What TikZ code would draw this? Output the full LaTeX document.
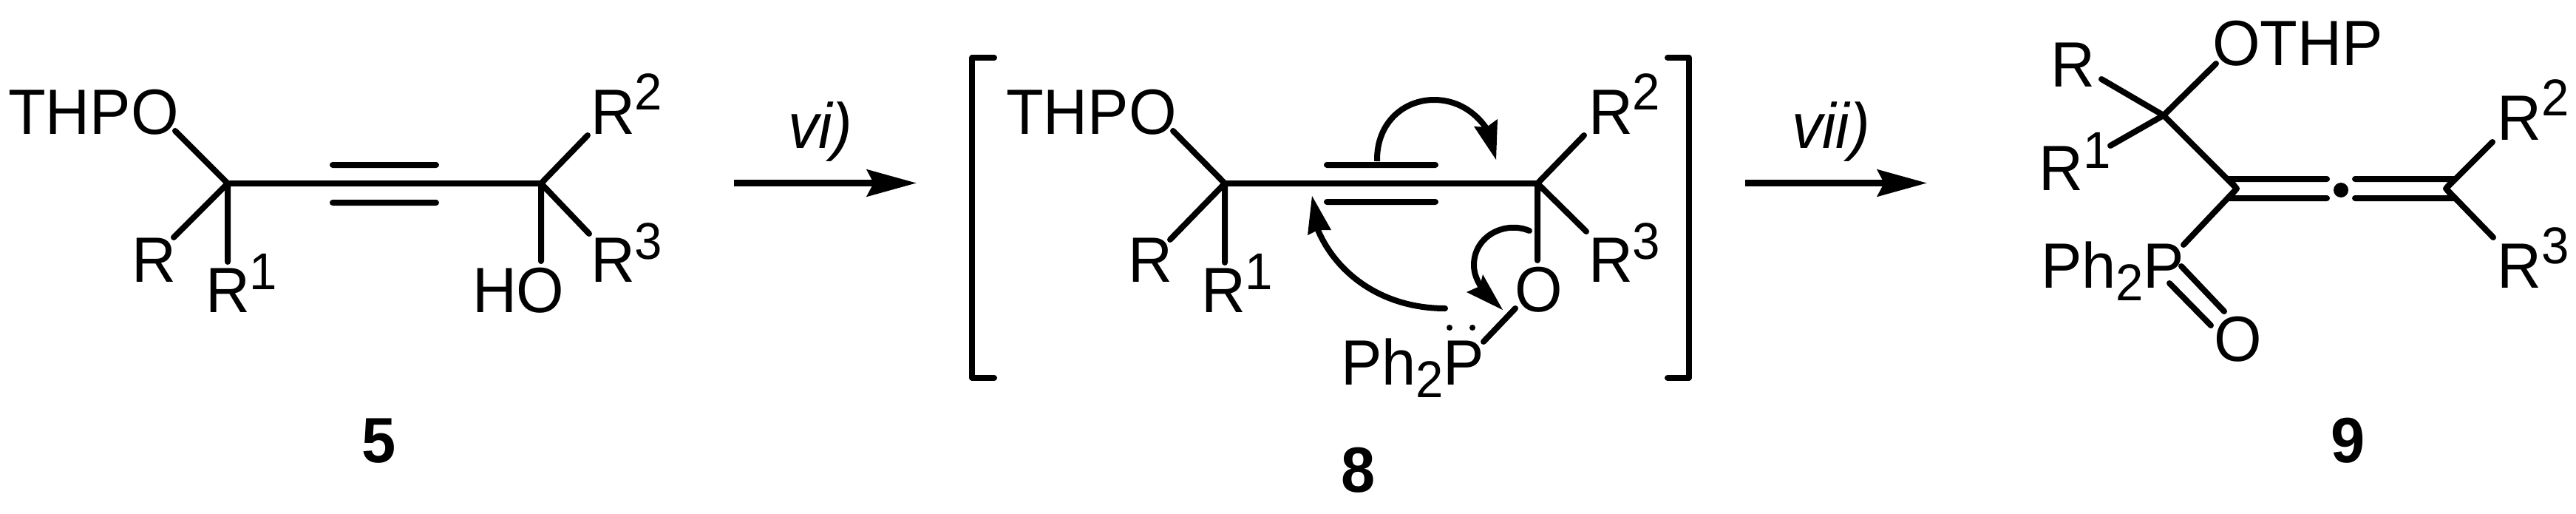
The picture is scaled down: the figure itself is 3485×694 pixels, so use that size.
\documentclass[tikz,border=0pt]{standalone}
\usepackage{fontspec}
\setmainfont{Liberation Sans}[FakeStretch=0.96]
\usetikzlibrary{arrows.meta}
\newcommand{\supd}[2][33]{\raisebox{#1pt}{\fontsize{70}{70}\selectfont #2}}
\newcommand{\subd}[1]{\raisebox{-17pt}{\fontsize{70}{70}\selectfont #1}}
\tikzset{
  atom/.style={anchor=base west,inner sep=0pt,outer sep=0pt,font=\fontsize{86.5}{86.5}\selectfont},
  cmpd/.style={anchor=base,inner sep=0pt,outer sep=0pt,font=\fontsize{86.5}{86.5}\selectfont\bfseries},
  reag/.style={anchor=base west,inner sep=0pt,outer sep=0pt,font=\fontsize{86.5}{86.5}\selectfont\itshape},
  bond/.style={line width=8pt,line cap=round,line join=round},
  curly/.style={line width=8pt,line cap=round},
  rxn/.style={line width=8.5pt,-{Stealth[length=67pt,width=36pt,inset=9pt]}},
  pairdot/.style={circle,fill=black,inner sep=0pt,minimum size=8pt},
  centdot/.style={circle,fill=black,inner sep=0pt,minimum size=20pt},
}
\begin{document}
\begin{tikzpicture}[x=1pt,y=-1pt]
\useasboundingbox (0,0) rectangle (3485,694);
% ---------- compound 5
\coordinate (a1) at (308,248); \coordinate (a2) at (732,248);
\coordinate (a3) at (237,177); \coordinate (a4) at (235,321); \coordinate (a5) at (308,354);
\coordinate (a6) at (795,183); \coordinate (a7) at (797,316); \coordinate (a8) at (732,353);
\coordinate (a9) at (450,223); \coordinate (a10) at (590,223);
\coordinate (a11) at (450,274); \coordinate (a12) at (590,274);
\draw[bond] (a3)--(a1)--(a2)--(a6) (a4)--(a1)--(a5) (a7)--(a2)--(a8) (a9)--(a10) (a11)--(a12);
\node[atom] (t5a) at (11,181) {THPO};
\node[atom] (t5b) at (178,381) {R};
\node[atom] (t5c) at (278,422) {R\supd[31]{1}};
\node[atom] (t5d) at (639,422) {HO};
\node[atom] (t5e) at (799,181) {R\supd{2}};
\node[atom] (t5f) at (799,381) {R\supd[31]{3}};
\node[cmpd] (n5) at (513,625) {5};
% ---------- arrow vi
\coordinate (r1) at (993,247.5); \coordinate (r2) at (1240,247.5);
\draw[rxn] (r1)--(r2);
\node[reag] (vi) at (1066,200) {vi)};
% ---------- brackets
\coordinate (bl1) at (1345,78); \coordinate (bl2) at (1315,78); \coordinate (bl3) at (1315,511); \coordinate (bl4) at (1345,511);
\coordinate (br1) at (2256,78); \coordinate (br2) at (2285,78); \coordinate (br3) at (2285,511); \coordinate (br4) at (2256,511);
\draw[bond] (bl1)--(bl2)--(bl3)--(bl4) (br1)--(br2)--(br3)--(br4);
% ---------- compound 8
\coordinate (b1) at (1657,248); \coordinate (b2) at (2080,248);
\coordinate (b3) at (1587,177); \coordinate (b4) at (1583,324); \coordinate (b5) at (1657,355);
\coordinate (b6) at (2143,183); \coordinate (b7) at (2146,313); \coordinate (b8) at (2080,352);
\coordinate (b9) at (1795,223); \coordinate (b10) at (1942,223);
\coordinate (b11) at (1795,273); \coordinate (b12) at (1942,273);
\coordinate (b13) at (2050,417); \coordinate (b14) at (2007,462);
\draw[bond] (b3)--(b1)--(b2)--(b6) (b4)--(b1)--(b5) (b7)--(b2)--(b8) (b9)--(b10) (b11)--(b12) (b13)--(b14);
\node[atom] (t8a) at (1361,181) {THPO};
\node[atom] (t8b) at (1526,381) {R};
\node[atom] (t8c) at (1625,422) {R\supd[31]{1}};
\node[atom] (t8e) at (2149,181) {R\supd{2}};
\node[atom] (t8f) at (2149,381) {R\supd[31]{3}};
\node[atom] (t8o) at (2049,421) {O};
\node[atom] (t8p) at (1814,520) {Ph\subd{2}P};
\node[pairdot] (d1) at (1961,443) {};
\node[pairdot] (d2) at (1992,443) {};
\node[cmpd] (n8) at (1838,665) {8};
% curved arrows
\coordinate (c1) at (1863,218); \coordinate (c2) at (1940,135); \coordinate (c3) at (2012,175);
\draw[curly,line cap=butt] (c1) .. controls (1862,165) and (1900,135) .. (c2) .. controls (1970,135) and (1995,150) .. (c3);
\fill (2024,216) -- (2026,161) -- (2011,172) -- (1994,171) -- cycle;
\coordinate (c4) at (1955,417); \coordinate (c5) at (1783,311);
\draw[curly] (c4) .. controls (1870,417) and (1808,370) .. (c5);
\fill (1775,265) -- (1769,318) -- (1783,311) -- (1801,311) -- cycle;
\coordinate (c6) at (2069,312); \coordinate (c7) at (1994,358); \coordinate (c8) at (2003,387);
\draw[curly] (c6) .. controls (2035,298) and (1994,320) .. (c7) .. controls (1994,370) and (1998,378) .. (c8);
\fill (2033,419) -- (2006,371) -- (2002,387) -- (1984,395) -- cycle;
% ---------- arrow vii
\coordinate (r3) at (2361,247.5); \coordinate (r4) at (2607,247.5);
\draw[rxn] (r3)--(r4);
\node[reag] (vii) at (2424,200) {vii)};
% ---------- compound 9
\coordinate (e1) at (2927,156); \coordinate (e2) at (2998,86); \coordinate (e3) at (2843,107);
\coordinate (e4) at (2855,197); \coordinate (e5) at (3026,255); \coordinate (e6) at (2954,331);
\coordinate (e7) at (3015,242); \coordinate (e8) at (3148,242); \coordinate (e9) at (3015,268); \coordinate (e10) at (3148,268);
\coordinate (e11) at (3186,242); \coordinate (e12) at (3320,242); \coordinate (e13) at (3186,268); \coordinate (e14) at (3320,268);
\coordinate (e15) at (3309,255); \coordinate (e16) at (3372,192); \coordinate (e17) at (3373,321);
\coordinate (e18) at (2951,360); \coordinate (e19) at (3009,421); \coordinate (e20) at (2935,383); \coordinate (e21) at (2991,440);
\draw[bond] (e2)--(e1)--(e5)--(e6) (e3)--(e1)--(e4) (e16)--(e15)--(e17)
  (e8)--(e7)--(e5)--(e9)--(e10) (e11)--(e12)--(e15)--(e14)--(e13) (e18)--(e19) (e20)--(e21);
\node[centdot] (dot) at (3167,257) {};
\node[atom] (t9a) at (2993,88) {OTHP};
\node[atom] (t9b) at (2774,117) {R};
\node[atom] (t9c) at (2758,257) {R\supd[30]{1}};
\node[atom] (t9e) at (3378,189) {R\supd{2}};
\node[atom] (t9f) at (3378,389) {R\supd{3}};
\node[atom] (t9p) at (2761,389) {Ph\subd{2}P};
\node[atom] (t9o) at (2995,488) {O};
\node[cmpd] (n9) at (3177,625) {9};
\end{tikzpicture}
\end{document}
